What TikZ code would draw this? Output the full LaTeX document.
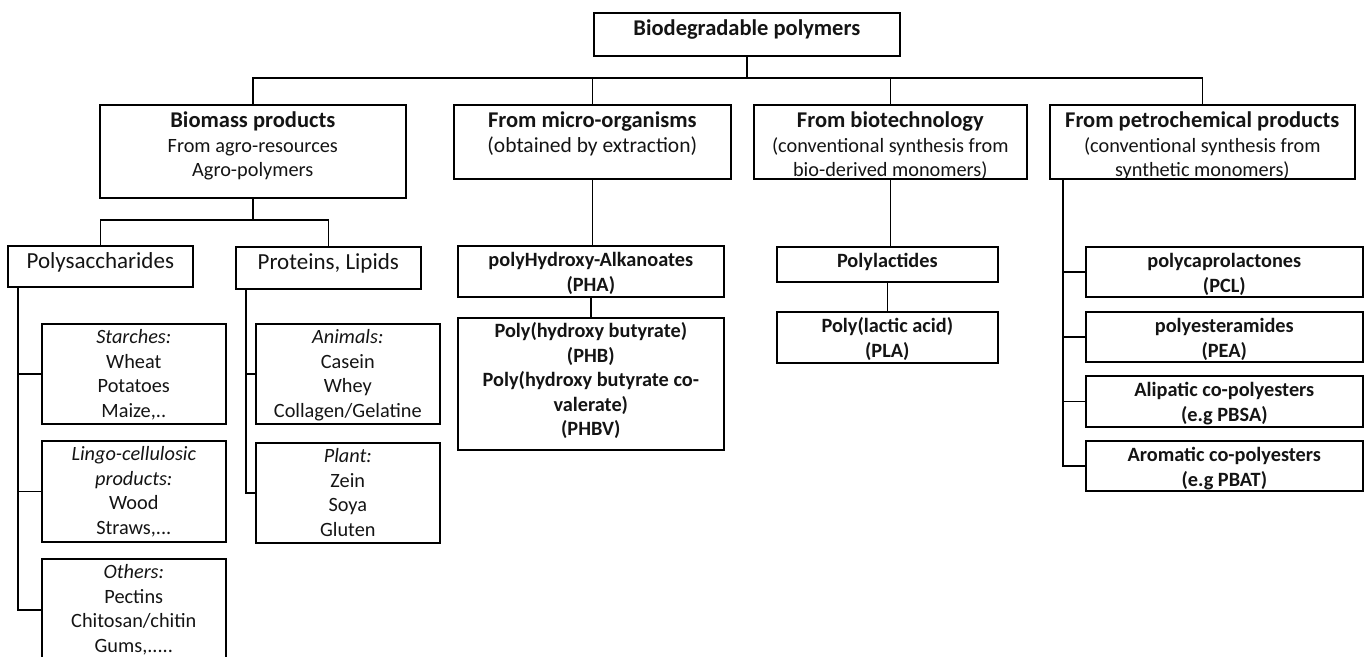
\documentclass[tikz,border=0pt]{standalone}
\usepackage{fontspec}
\setmainfont{Carlito}
\newcommand{\bx}[4][5pt]{\parbox[c][#3pt][t]{#2pt}{\centering\vspace*{#1}\strut#4}}
\newcommand{\hd}[1]{{\fontsize{22.5}{26}\selectfont\bfseries #1}}
\begin{document}
\begin{tikzpicture}[x=1pt,y=-1pt,
  box/.style={draw=black,line width=1.6pt,inner sep=0pt,anchor=north west,
              text=black!92,font=\fontsize{20.3}{24.4}\selectfont},
  big/.style={box,font=\fontsize{23}{28}\selectfont},
  wire/.style={draw=black,line width=1.6pt}]
\useasboundingbox (0,0) rectangle (1364,656);

% root
\node[box] (root) at (593,12) {\bx[6pt]{306}{43}{\hd{Biodegradable polymers}}};

% four main families
\node[box] (bio) at (99,104) {\bx[6pt]{306}{93}{\hd{Biomass products}\\From agro-resources\\Agro-polymers}};
\node[box] (micro) at (453,104) {\bx[6pt]{277}{74}{\hd{From micro-organisms}\\{\fontsize{21.5}{24.4}\selectfont(obtained by extraction)}}};
\node[box] (btech) at (753,104) {\bx[6pt]{273}{74}{\hd{From biotechnology}\\(conventional synthesis from\\bio-derived monomers)}};
\node[box] (petro) at (1049,104) {\bx[6pt]{305}{74}{\hd{From petrochemical products}\\(conventional synthesis from\\synthetic monomers)}};

% agro-polymers
\node[big] (poly) at (7,245) {\bx[3pt]{185}{41}{Polysaccharides}};
\node[big] (prot) at (235,246) {\bx[3pt]{185}{42}{Proteins, Lipids}};
\node[box] (starch) at (41,323) {\bx[3pt]{184}{100}{\textit{Starches:}\\Wheat\\Potatoes\\Maize,..}};
\node[box] (lingo) at (41,440) {\bx[3pt]{184}{101}{\textit{Lingo-cellulosic products:}\\Wood\\Straws,...}};
\node[box] (other) at (41,558) {\bx[3pt]{184}{102}{\textit{Others:}\\Pectins\\Chitosan/chitin\\Gums,.....}};
\node[box] (anim) at (255,323) {\bx[3pt]{184}{100}{\textit{Animals:}\\Casein\\Whey\\Collagen/Gelatine}};
\node[box] (plant) at (255,442) {\bx[3pt]{184}{100}{\textit{Plant:}\\Zein\\Soya\\Gluten}};

% micro-organisms
\node[box] (pha) at (457,245) {\bx[4pt]{266}{51}{\textbf{polyHydroxy-Alkanoates\\(PHA)}}};
\node[box] (phb) at (457,317) {\bx[3pt]{266}{132}{\textbf{Poly(hydroxy butyrate)\\(PHB)\\Poly(hydroxy butyrate co-\\valerate)\\(PHBV)}}};

% biotechnology
\node[box] (plac) at (776,246) {\bx[4pt]{221}{35}{\textbf{Polylactides}}};
\node[box] (pla) at (776,311) {\bx[4pt]{221}{51}{\textbf{Poly(lactic acid)\\(PLA)}}};

% petrochemical
\node[box] (pcl) at (1085,246) {\bx[4pt]{277}{50}{\textbf{polycaprolactones\\(PCL)}}};
\node[box] (pea) at (1085,311) {\bx[4pt]{277}{50}{\textbf{polyesteramides\\(PEA)}}};
\node[box] (pbsa) at (1085,375) {\bx[4pt]{277}{51}{\textbf{Alipatic co-polyesters\\(e.g PBSA)}}};
\node[box] (pbat) at (1085,440) {\bx[4pt]{277}{50}{\textbf{Aromatic co-polyesters\\(e.g PBAT)}}};

% bus levels and trunks
\coordinate (busA) at (0,78);
\coordinate (busB) at (0,220);
\coordinate (tPoly) at ([xshift=11pt]poly.south west);
\coordinate (tProt) at ([xshift=11pt]prot.south west);
\coordinate (tPetro) at ([xshift=14pt]petro.south west);

% root to families
\draw[wire] (root.south) -- (root.south |- busA);
\draw[wire] (bio.north) -- (bio.north |- busA) -| (petro.north);
\draw[wire] (micro.north) -- (micro.north |- busA);
\draw[wire] (btech.north) -- (btech.north |- busA);

% biomass branch
\draw[wire] (bio.south) -- (bio.south |- busB);
\draw[wire] (poly.north) -- (poly.north |- busB) -| (prot.north);
\draw[wire] (tPoly) |- (other.west);
\draw[wire] (starch.west) -- (starch.west -| tPoly);
\draw[wire] (lingo.west) -- (lingo.west -| tPoly);
\draw[wire] (tProt) |- (plant.west);
\draw[wire] (anim.west) -- (anim.west -| tProt);

% micro-organisms branch
\draw[wire] (micro.south) -- (pha.north -| micro.south);
\draw[wire] (pha.south) -- (phb.north);

% biotechnology branch
\draw[wire] (btech.south) -- (plac.north -| btech.south);
\draw[wire] (plac.south) -- (pla.north);

% petrochemical branch
\draw[wire] (tPetro) |- (pbat.west);
\draw[wire] (pcl.west) -- (pcl.west -| tPetro);
\draw[wire] (pea.west) -- (pea.west -| tPetro);
\draw[wire] (pbsa.west) -- (pbsa.west -| tPetro);
\end{tikzpicture}
\end{document}
